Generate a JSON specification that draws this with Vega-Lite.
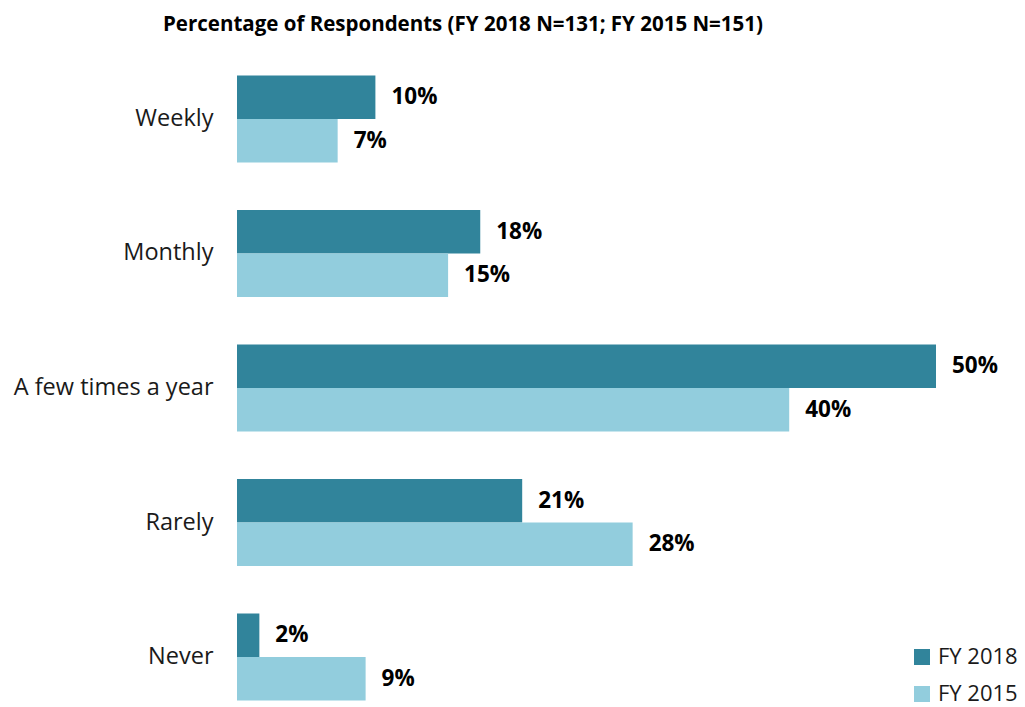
{
  "$schema": "https://vega.github.io/schema/vega-lite/v6.json",
  "width": 699,
  "height": 636,
  "autosize": "none",
  "padding": {"left": 237, "top": 70, "right": 89, "bottom": 1},
  "background": "white",
  "config": {"view": {"stroke": null}, "font": "Open Sans"},
  "title": {
    "text": "Percentage of Respondents (FY 2018 N=131; FY 2015 N=151)",
    "anchor": "start",
    "frame": "group",
    "dx": -74,
    "offset": 35,
    "fontSize": 20.5,
    "fontWeight": "bold",
    "font": "Open Sans",
    "color": "#000000"
  },
  "data": {
    "values": [
      {"frequency": "Weekly", "year": "FY 2018", "pct": 9.9, "label": "10%"},
      {"frequency": "Weekly", "year": "FY 2015", "pct": 7.2, "label": "7%"},
      {"frequency": "Monthly", "year": "FY 2018", "pct": 17.4, "label": "18%"},
      {"frequency": "Monthly", "year": "FY 2015", "pct": 15.1, "label": "15%"},
      {"frequency": "A few times a year", "year": "FY 2018", "pct": 50.0, "label": "50%"},
      {"frequency": "A few times a year", "year": "FY 2015", "pct": 39.5, "label": "40%"},
      {"frequency": "Rarely", "year": "FY 2018", "pct": 20.4, "label": "21%"},
      {"frequency": "Rarely", "year": "FY 2015", "pct": 28.3, "label": "28%"},
      {"frequency": "Never", "year": "FY 2018", "pct": 1.6, "label": "2%"},
      {"frequency": "Never", "year": "FY 2015", "pct": 9.2, "label": "9%"}
    ]
  },
  "encoding": {
    "y": {
      "field": "frequency",
      "type": "nominal",
      "sort": ["Weekly", "Monthly", "A few times a year", "Rarely", "Never"],
      "scale": {"paddingInner": 0.353, "paddingOuter": 0.04},
      "axis": {
        "title": null,
        "domain": false,
        "ticks": false,
        "labelPadding": 24,
        "labelFontSize": 23.5,
        "labelLimit": 400,
        "labelColor": "#1a1a1a",
        "labelFont": "Open Sans",
        "labelFontWeight": "normal"
      }
    },
    "yOffset": {
      "field": "year",
      "type": "nominal",
      "sort": ["FY 2018", "FY 2015"],
      "scale": {"paddingInner": 0, "paddingOuter": 0}
    },
    "x": {
      "field": "pct",
      "type": "quantitative",
      "scale": {"domain": [0, 50], "nice": false},
      "axis": null
    }
  },
  "layer": [
    {
      "mark": {"type": "bar"},
      "encoding": {
        "color": {
          "field": "year",
          "type": "nominal",
          "sort": ["FY 2018", "FY 2015"],
          "scale": {"domain": ["FY 2018", "FY 2015"], "range": ["#31849B", "#92CDDD"]},
          "legend": {
            "title": null,
            "orient": "none",
            "legendX": 674,
            "legendY": 576,
            "symbolType": "square",
            "symbolSize": 256,
            "symbolStrokeWidth": 0,
            "labelFontSize": 22,
            "labelLimit": 200,
            "labelFont": "Open Sans",
            "labelColor": "#1a1a1a",
            "labelOffset": 5,
            "rowPadding": 15
          }
        }
      }
    },
    {
      "mark": {"type": "text", "align": "left", "baseline": "middle", "dx": 16, "fontSize": 22.5, "fontWeight": "bold", "font": "Open Sans", "color": "#000000"},
      "encoding": {
        "text": {"field": "label", "type": "nominal"}
      }
    }
  ]
}
